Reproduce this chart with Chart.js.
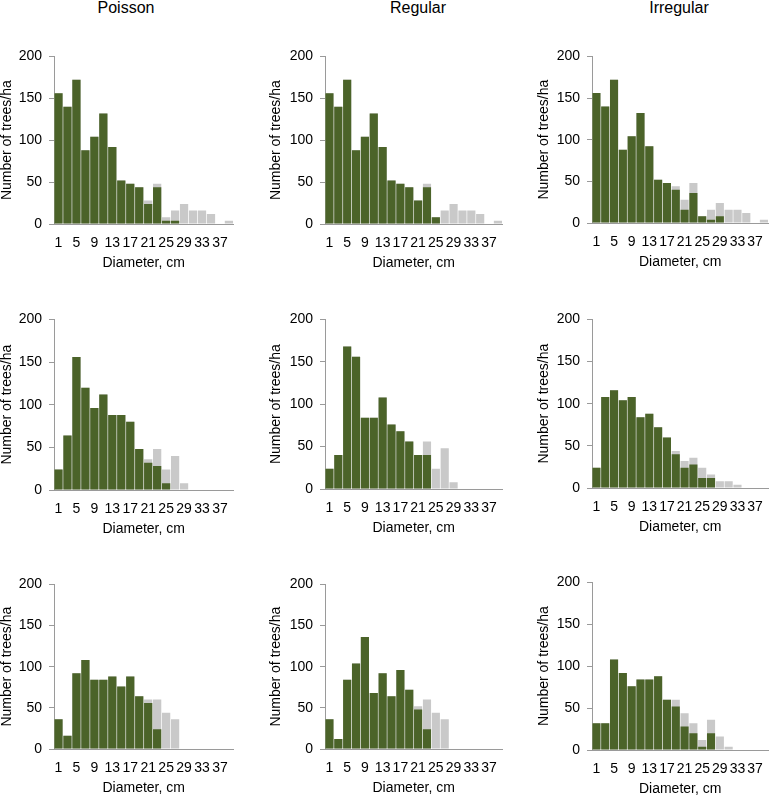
<!DOCTYPE html>
<html>
<head>
<meta charset="utf-8">
<script src="https://cdn.jsdelivr.net/npm/chart.js@4.4.1/dist/chart.umd.min.js"></script>
<style>
  html, body { margin: 0; padding: 0; background: #ffffff; }
  body { width: 777px; height: 799px; position: relative; overflow: hidden; font-family: "Liberation Sans", Arial, sans-serif; }
  canvas { position: absolute; }
  .ttl { position: absolute; font-size: 16px; color: #000; white-space: nowrap; transform: translate(-50%, -50%); line-height: 1; }
</style>
</head>
<body>
<div class="ttl" style="left:126px; top:8px;">Poisson</div>
<div class="ttl" style="left:418px; top:8px;">Regular</div>
<div class="ttl" style="left:679px; top:8px;">Irregular</div>
<script>
// ---- data ----
const categories = [1, 3, 5, 7, 9, 11, 13, 15, 17, 19, 21, 23, 25, 27, 29, 31, 33, 35, 37, 39];
const tickLabels = [1, 5, 9, 13, 17, 21, 25, 29, 33, 37];
const columnTitles = ["Poisson", "Regular", "Irregular"];

const poisson1Green   = [156,140,172,88,104,132,92,52,48,44,24,44,4,4,0,0,0,0,0,0];
const poisson1Gray    = [156,140,172,88,104,132,92,52,48,44,28,48,8,16,24,16,16,12,0,4];
const regular1Green   = [156,140,172,88,104,132,92,52,48,44,28,44,8,0,0,0,0,0,0,0];
const regular1Gray    = [156,140,172,88,104,132,92,52,48,44,28,48,8,16,24,16,16,12,0,4];
const irregular1Green = [156,140,172,88,104,132,92,52,48,40,16,36,8,4,8,0,0,0,0,0];
const irregular1Gray  = [156,140,172,88,104,132,92,52,48,44,28,48,8,16,24,16,16,12,0,4];

const poisson2Green   = [24,64,156,120,96,112,88,88,80,48,32,28,8,0,0,0,0,0,0,0];
const poisson2Gray    = [24,64,156,120,96,112,88,88,80,48,36,48,24,40,8,0,0,0,0,0];
const regular2Green   = [24,40,168,156,84,84,108,76,68,56,40,40,0,0,0,0,0,0,0,0];
const regular2Gray    = [24,40,168,156,84,84,108,76,68,56,40,56,24,48,8,0,0,0,0,0];
const irregular2Green = [24,108,116,104,108,84,88,72,60,40,24,28,12,12,0,0,0,0,0,0];
const irregular2Gray  = [24,108,116,104,108,84,88,72,60,44,32,36,24,16,8,8,4,0,0,0];

const poisson3Green   = [36,16,92,108,84,84,88,76,88,64,56,24,0,0,0,0,0,0,0,0];
const poisson3Gray    = [36,16,92,108,84,84,88,76,88,64,60,60,44,36,0,0,0,0,0,0];
const regular3Green   = [36,12,84,104,136,68,92,64,96,72,48,24,0,0,0,0,0,0,0,0];
const regular3Gray    = [36,12,84,104,136,68,92,64,96,72,52,60,44,36,0,0,0,0,0,0];
const irregular3Green = [32,32,108,92,76,84,84,88,60,52,28,20,4,20,0,0,0,0,0,0];
const irregular3Gray  = [32,32,108,92,76,84,84,88,60,60,44,32,12,36,16,4,0,0,0,0];

const yTicks = [0, 50, 100, 150, 200];
const yTitle = "Number of trees/ha";
const xTitle = "Diameter, cm";

// ---- layout (positions only) ----
const panels = [
  {g: poisson1Green,   t: poisson1Gray,   cell: 0,   L: 54,  R: 237, T: 53,  B: 223.5, yt: 7},
  {g: regular1Green,   t: regular1Gray,   cell: 259, L: 325, R: 506, T: 53,  B: 224,   yt: 276.5},
  {g: irregular1Green, t: irregular1Gray, cell: 518, L: 592, R: 772, T: 53,  B: 223,   yt: 544},
  {g: poisson2Green,   t: poisson2Gray,   cell: 0,   L: 54,  R: 237, T: 316, B: 490,   yt: 7},
  {g: regular2Green,   t: regular2Gray,   cell: 259, L: 325, R: 506, T: 316, B: 488.5, yt: 276.5},
  {g: irregular2Green, t: irregular2Gray, cell: 518, L: 592, R: 772, T: 316, B: 487.5, yt: 544},
  {g: poisson3Green,   t: poisson3Gray,   cell: 0,   L: 54,  R: 237, T: 581, B: 748.5, yt: 7},
  {g: regular3Green,   t: regular3Gray,   cell: 259, L: 325, R: 506, T: 581, B: 749,   yt: 276.5},
  {g: irregular3Green, t: irregular3Gray, cell: 518, L: 592, R: 772, T: 579, B: 750,   yt: 544}
];

const GREEN = '#4b6329';
const GRAY = '#c9c9c9';
const AXIS = '#9a9a9a';
const FONT = "'Liberation Sans', Arial, Helvetica, sans-serif";
const PADTOP = 12, XH = 48, PADR = 3;

panels.forEach((p) => {
  const cv = document.createElement('canvas');
  const w = Math.round(p.R + PADR - p.cell);
  const h = Math.round(p.B - p.T + PADTOP + XH);
  cv.width = w; cv.height = h;
  cv.style.left = p.cell + 'px';
  cv.style.top = (p.T - PADTOP) + 'px';
  cv.style.width = w + 'px'; cv.style.height = h + 'px';
  document.body.appendChild(cv);
  const yAxisW = p.L - p.cell;
  const yTitlePad = Math.max(0, p.yt - p.cell - 7);
  new Chart(cv.getContext('2d'), {
    type: 'bar',
    data: {
      labels: categories.map(String),
      datasets: [
        {label: 'green', data: p.g, backgroundColor: GREEN, grouped: false, barPercentage: 0.92, categoryPercentage: 1, borderWidth: 0},
        {label: 'gray', data: p.t, backgroundColor: GRAY, grouped: false, barPercentage: 0.92, categoryPercentage: 1, borderWidth: 0}
      ]
    },
    options: {
      responsive: false,
      animation: false,
      devicePixelRatio: 1,
      layout: {padding: {top: PADTOP, right: PADR, left: 0, bottom: 0}},
      plugins: {legend: {display: false}, tooltip: {enabled: false}, title: {display: false}},
      scales: {
        x: {
          type: 'category',
          offset: true,
          grid: {display: false, drawTicks: false},
          border: {display: true, color: AXIS, width: 1},
          ticks: {
            autoSkip: false, maxRotation: 0, minRotation: 0, padding: 11,
            color: '#000', font: {family: FONT, size: 14},
            callback: function (v, i) { const c = categories[i]; return tickLabels.includes(c) ? String(c) : ''; }
          },
          title: {display: true, text: xTitle, color: '#000', font: {family: FONT, size: 14, lineHeight: 1}, padding: {top: 0, bottom: 2}},
          afterFit: (s) => { s.height = XH; }
        },
        y: {
          min: 0, max: 200,
          afterBuildTicks: (s) => { s.ticks = yTicks.map(v => ({value: v})); },
          grid: {display: true, drawOnChartArea: false, drawTicks: true, tickLength: 5, color: AXIS},
          border: {display: true, color: AXIS, width: 1},
          ticks: {padding: 7, color: '#000', font: {family: FONT, size: 14}},
          title: {display: true, text: yTitle, color: '#000', font: {family: FONT, size: 14, lineHeight: 1}, padding: {top: yTitlePad, bottom: 0}},
          afterFit: (s) => { s.width = yAxisW; }
        }
      }
    }
  });
});
</script>
</body>
</html>
